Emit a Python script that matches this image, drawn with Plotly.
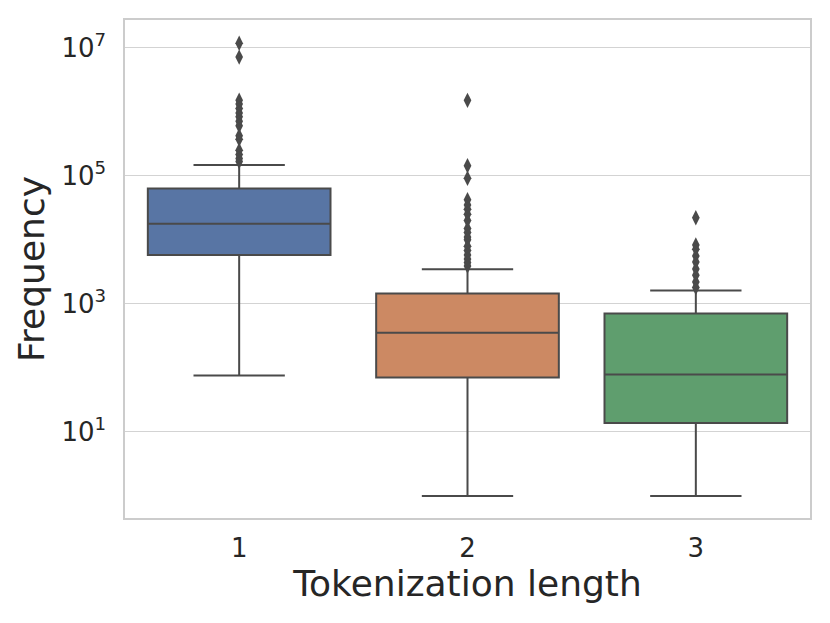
import plotly.graph_objects as go

# categories and box statistics (log scale)
categories = ['1', '2', '3']
q1 = [5.8e3, 71, 13.8]
median = [1.78e4, 355, 78.5]
q3 = [6.3e4, 1450, 708]
lowerfence = [76, 1, 1]
upperfence = [1.47e5, 3470, 1620]

outliers_1 = [1.17e7, 7.1e6, 1.51e6, 1.32e6, 1.12e6, 9.5e5, 8.3e5, 7.1e5, 6.0e5,
              4.2e5, 3.7e5, 2.5e5, 2.14e5, 1.86e5, 1.66e5]
outliers_2 = [1.5e6, 1.43e5, 9.1e4, 4.2e4, 3.5e4, 3.0e4, 2.5e4, 2.0e4, 1.5e4, 1.3e4,
              1.1e4, 1.0e4, 7.9e3, 6.8e3, 5.8e3, 5.0e3, 4.4e3, 3.9e3]
outliers_3 = [2.2e4, 8.3e3, 7.1e3, 5.6e3, 4.5e3, 3.5e3, 2.8e3, 2.2e3, 1.8e3]
outliers = [outliers_1, outliers_2, outliers_3]

ytickvals = [10, 1000, 1e5, 1e7]
yticktext = ['10<sup>1</sup>', '10<sup>3</sup>', '10<sup>5</sup>', '10<sup>7</sup>']

colors = ['#5875a4', '#cc8963', '#5f9e6e']
line_col = '#4a4a4a'

fig = go.Figure()

for i, cat in enumerate(categories):
    fig.add_trace(go.Box(
        x=[cat], q1=[q1[i]], median=[median[i]], q3=[q3[i]],
        lowerfence=[lowerfence[i]], upperfence=[upperfence[i]],
        width=0.8,
        fillcolor=colors[i],
        line=dict(color=line_col, width=2),
        whiskerwidth=0.5,
        boxpoints=False,
        showlegend=False,
        hoverinfo='skip'
    ))
    fig.add_trace(go.Scatter(
        x=[cat] * len(outliers[i]), y=outliers[i],
        mode='markers',
        marker=dict(symbol='diamond-tall', size=11, color=line_col),
        showlegend=False
    ))

# the page body adds an 8px offset, so the figure is a bit smaller than the window
fig.update_layout(
    width=822, height=615,
    margin=dict(l=117, r=20, t=10, b=105),
    plot_bgcolor='white',
    paper_bgcolor='white',
    boxmode='overlay',
    font=dict(family='DejaVu Sans', color='#262626'),
    xaxis=dict(
        type='category',
        categoryorder='array', categoryarray=categories,
        range=[-0.5, 2.5],
        title=dict(text='Tokenization length', font=dict(size=36), standoff=0),
        tickfont=dict(size=26),
        showgrid=False,
        showline=True, mirror=True, linecolor='#cccccc', linewidth=1.5,
        ticks='outside', ticklen=6, tickcolor='rgba(0,0,0,0)',
        zeroline=False
    ),
    yaxis=dict(
        type='log',
        range=[-0.343, 7.43],
        tickvals=ytickvals, ticktext=yticktext,
        title=dict(text='Frequency', font=dict(size=36), standoff=6),
        tickfont=dict(size=26),
        showgrid=True, gridcolor='#d3d3d3', gridwidth=1.2,
        showline=True, mirror=True, linecolor='#cccccc', linewidth=1.5,
        ticks='outside', ticklen=12, tickcolor='rgba(0,0,0,0)',
        zeroline=False
    )
)

fig.write_html('out.html')
